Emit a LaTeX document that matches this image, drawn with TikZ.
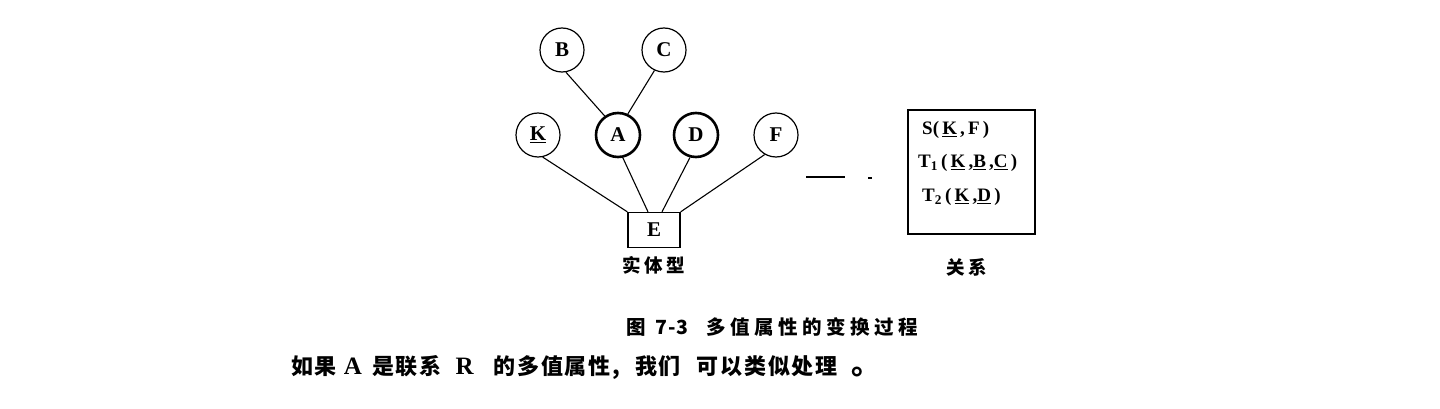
\documentclass[tikz,border=0pt]{standalone}
\usepackage{fontspec}
\setmainfont{Liberation Serif}
\newfontfamily\cjk{Noto Sans CJK SC}
\usetikzlibrary{positioning}
%% Chinese text, with letter spacing as optional argument
\newcommand{\cn}[2][0]{{\cjk\bfseries\addfontfeatures{LetterSpace=#1}#2}}
\newcommand{\lat}[1]{{\fontsize{25}{25}\selectfont\bfseries #1}}

\begin{document}
\begin{tikzpicture}[x=1pt, y=-1pt,
    attr/.style={draw, circle, minimum size=44pt, inner sep=0pt, line width=1.2pt,
      font=\fontsize{21}{21}\selectfont\bfseries},
    multi/.style={attr, line width=2.6pt},
    ent/.style={draw, rectangle, minimum width=52pt, minimum height=35pt, inner sep=0pt,
      line width=1.3pt, font=\fontsize{21}{21}\selectfont\bfseries},
    link/.style={line width=1.1pt},
    rel/.style={anchor=west, inner sep=0pt, font=\fontsize{19}{19}\selectfont\bfseries},
    lbl/.style={inner sep=0pt, font=\fontsize{18.5}{18.5}\selectfont}]

  \useasboundingbox (0,0) rectangle (1440,409);

  %% attributes of E
  \node[attr]  (B) at (562, 50) {B};
  \node[attr]  (C) at (664, 50) {C};
  \node[attr]  (K) at (538,135) {\underline{K}};
  \node[multi] (A) at (618,135) {A};
  \node[multi] (D) at (696,135) {D};
  \node[attr]  (F) at (776,135) {F};
  \node[ent]   (E) at (654,230) {E};
  \node[lbl]   (Etext) at (654,265) {\cn[19]{实体型}};

  \draw[link] (B.-80) -- (A.125);   %% B-A
  \draw[link] (C.-115) -- (A.65);   %% C-A
  \draw[link] (K.-78) -- (E.north west);
  \draw[link] (A.-78) -- ([xshift=-6pt]E.north);
  \draw[link] (D.-105) -- ([xshift=8pt]E.north);
  \draw[link] (F.-120) -- (E.north east);

  %% transform mark
  \coordinate (m1) at (806,177);
  \coordinate (m2) at (845,177);
  \coordinate (m3) at (868,178);
  \coordinate (m4) at (872,178);
  \draw[link] (m1) -- (m2);
  \draw[link] (m3) -- (m4);

  %% relations
  \node[draw, line width=1.2pt, minimum width=127pt, minimum height=124pt, inner sep=0pt] (rbox) at (971.5,172) {};
  \node[rel] (S)  at (922,130) {S(\,\underline{K}\,,\,F\,)};
  \node[rel] (T1) at (918,163) {T\textsubscript{1}\,(\,\underline{K}\,,\underline{B}\,,\underline{C}\,)};
  \node[rel] (T2) at (922,197) {T\textsubscript{2}\,(\,\underline{K}\,,\underline{D}\,)};
  \node[lbl] (Rtext) at (967,267) {\cn[19]{关系}};

  %% caption and text
  \node[lbl, anchor=west, font=\fontsize{19.5}{19.5}\selectfont] (cap) at (626,327)
    {\cn[16]{图}\hspace{10pt}\cn[5]{7-3}\hspace{18pt}\cn[23]{多值属性的变换过程}};
  \node[lbl, anchor=west, font=\fontsize{22}{22}\selectfont] (txt) at (291,367)
    {\cn[8]{如果}\hspace{7pt}\lat{A}\hspace{10pt}\cn[8]{是联系}\hspace{14pt}\lat{R}\hspace{20pt}%
     \cn[8]{的多值属性,}\hspace{15pt}\cn[8]{我们}\hspace{16pt}\cn[8]{可以类似处理}\hspace{14pt}%
     {\fontsize{30}{30}\selectfont\cn{。}}};
\end{tikzpicture}
\end{document}
